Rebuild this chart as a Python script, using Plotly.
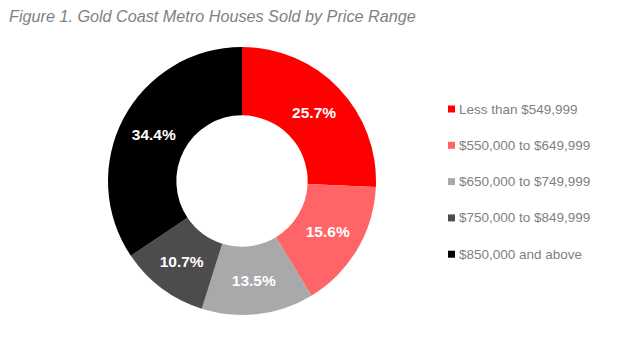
import plotly.graph_objects as go

title_text = "Figure 1. Gold Coast Metro Houses Sold by Price Range"
categories = ["Less than $549,999", "$550,000 to $649,999", "$650,000 to $749,999",
              "$750,000 to $849,999", "$850,000 and above"]
shares = [25.7, 15.6, 13.5, 10.7, 34.4]
colors = ["#FF0000", "#FF6466", "#A9A9AC", "#4D4B4D", "#000000"]

W, H = 626, 339
cx, cy, r = 242, 181, 134

fig = go.Figure()
fig.add_trace(go.Pie(
    labels=categories, values=shares, sort=False, direction="clockwise", rotation=0,
    hole=0.49, marker=dict(colors=colors, line=dict(width=0)),
    texttemplate="%{value:.1f}%", textposition="inside", insidetextorientation="horizontal",
    textfont=dict(family="Arial, Liberation Sans", size=15.5, color="white", weight="bold"),
    showlegend=False, hoverinfo="label+value",
    domain=dict(x=[(cx - r) / W, (cx + r) / W], y=[(H - cy - r) / H, (H - cy + r) / H]),
))

shapes, annotations = [], []
y0, dy = 109, 36.3
for i, (lab, col) in enumerate(zip(categories, colors)):
    yc = y0 + i * dy
    shapes.append(dict(type="rect", xref="paper", yref="paper",
                       x0=448 / W, x1=455 / W, y0=(H - yc - 3.5) / H, y1=(H - yc + 3.5) / H,
                       fillcolor=col, line=dict(width=0)))
    annotations.append(dict(text=lab, xref="paper", yref="paper", x=457 / W, y=(H - yc) / H,
                            xanchor="left", yanchor="middle", showarrow=False,
                            font=dict(family="Arial, Liberation Sans", size=13.5, color="#7F7F7F")))

annotations.append(dict(text="<i>" + title_text + "</i>", xref="paper", yref="paper",
                        x=7 / W, y=(H - 16) / H, xanchor="left", yanchor="middle", showarrow=False,
                        font=dict(family="Arial, Liberation Sans", size=16.2, color="#7F7F7F")))

fig.update_layout(width=W, height=H, margin=dict(l=0, r=0, t=0, b=0),
                  paper_bgcolor="white", plot_bgcolor="white",
                  shapes=shapes, annotations=annotations)
fig.write_html("out.html")
